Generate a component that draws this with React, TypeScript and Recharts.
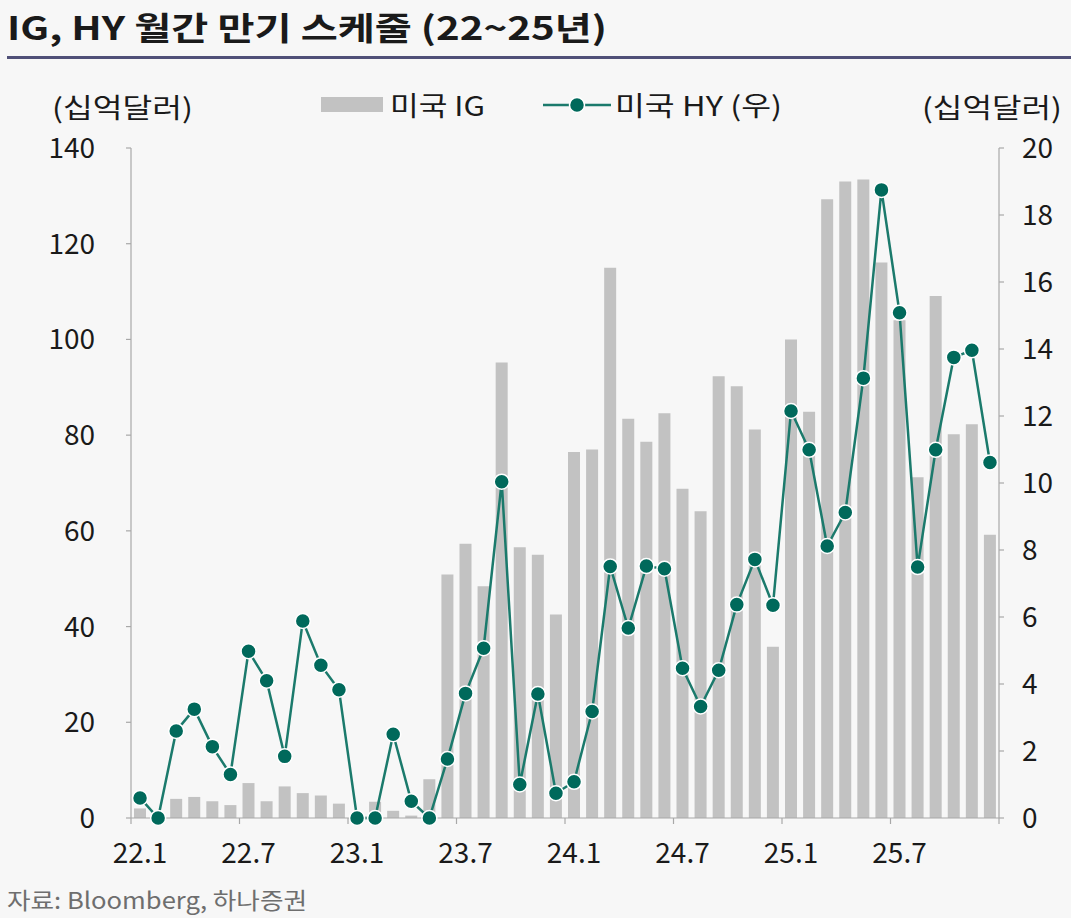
import React from "react";
import { ComposedChart, Bar, Line, XAxis, YAxis } from "recharts";

// 22.1 ~ 25.12 monthly buckets
const years = ["22", "23", "24", "25"];
const months = [1, 2, 3, 4, 5, 6, 7, 8, 9, 10, 11, 12];
const categories = years.flatMap((y) => months.map((m) => `${y}.${m}`));

const xTickLabels = ["22.1", "22.7", "23.1", "23.7", "24.1", "24.7", "25.1", "25.7"];

// 미국 IG (left axis, 십억달러)
const igValues = [
  2, 1, 4.0, 4.4, 3.5, 2.7, 7.3, 3.5, 6.6, 5.2, 4.7, 3.0,
  0.5, 3.4, 1.5, 0.5, 8.1, 50.9, 57.3, 48.4, 95.2, 56.6, 55.0, 42.5,
  76.5, 77.0, 115.0, 83.4, 78.6, 84.6, 68.8, 64.1, 92.3, 90.2, 81.2, 35.8,
  100.0, 84.9, 129.3, 133.0, 133.4, 116.1, 104.0, 71.2, 109.1, 80.2, 82.3, 59.2,
];

// 미국 HY (right axis, 십억달러)
const hyValues = [
  0.6, 0, 2.6, 3.25, 2.13, 1.3, 4.98, 4.1, 1.84, 5.88, 4.56, 3.83,
  0, 0, 2.5, 0.5, 0, 1.76, 3.72, 5.07, 10.04, 1.0, 3.7, 0.74,
  1.08, 3.18, 7.51, 5.67, 7.52, 7.44, 4.47, 3.33, 4.41, 6.37, 7.72, 6.35,
  12.15, 10.99, 8.12, 9.12, 13.13, 18.75, 15.08, 7.49, 10.99, 13.75, 13.96, 10.61,
];

const leftTicks = [0, 20, 40, 60, 80, 100, 120, 140];
const rightTicks = [0, 2, 4, 6, 8, 10, 12, 14, 16, 18, 20];

const data = categories.map((m, i) => ({ m, ig: igValues[i], hy: hyValues[i] }));

const FONT = "'Noto Sans CJK KR', 'Noto Sans', sans-serif";
const TEXT = "#1a1a1a";
const AXIS = "#a8a8a8";
const BAR = "#c2c2c2";
const LINE = "#1b7a6c";
const DOT = "#00695b";

const MonthTick = (props: any) => {
  const { x, y, payload, index } = props;
  const half = payload?.offset ?? 9;
  const showLabel = xTickLabels.includes(payload.value);
  const isLast = index === categories.length - 1;
  return (
    <g>
      {showLabel && (
        <>
          <line x1={x - half} x2={x - half} y1={y} y2={y + 6} stroke={AXIS} strokeWidth={1.2} />
          <text x={x} y={y + 45} textAnchor="middle" fontSize={28} fill={TEXT} fontFamily={FONT}>
            {payload.value}
          </text>
        </>
      )}
      {isLast && <line x1={x + half} x2={x + half} y1={y} y2={y + 6} stroke={AXIS} strokeWidth={1.2} />}
    </g>
  );
};

export default function App() {
  return (
    <div
      style={{
        position: "absolute",
        left: 0,
        top: 0,
        width: 1071,
        height: 918,
        background: "#f7f7f7",
        overflow: "hidden",
        fontFamily: FONT,
      }}
    >
      <svg width={1071} height={918} style={{ position: "absolute", left: 0, top: 0 }}>
        <text x={7} y={40} fontSize={32} fontWeight={700} fill={TEXT} fontFamily={FONT} textLength={600} lengthAdjust="spacingAndGlyphs">
          IG, HY 월간 만기 스케줄 (22~25년)
        </text>
        <rect x={7} y={56} width={1064} height={3} fill="#505078" />
        <text x={52} y={118} fontSize={27} fill={TEXT} fontFamily={FONT} textLength={141} lengthAdjust="spacingAndGlyphs">
          (십억달러)
        </text>
        <text x={922} y={118} fontSize={27} fill={TEXT} fontFamily={FONT} textLength={140} lengthAdjust="spacingAndGlyphs">
          (십억달러)
        </text>
        {/* legend */}
        <rect x={321} y={97} width={62} height={15} fill={BAR} />
        <text x={390} y={116} fontSize={27} fill={TEXT} fontFamily={FONT} textLength={95} lengthAdjust="spacingAndGlyphs">
          미국 IG
        </text>
        <line x1={543} x2={611} y1={105} y2={105} stroke={LINE} strokeWidth={2.5} />
        <circle cx={577} cy={105} r={7.5} fill={DOT} stroke="#fff" strokeWidth={1.5} />
        <text x={615} y={116} fontSize={27} fill={TEXT} fontFamily={FONT} textLength={167} lengthAdjust="spacingAndGlyphs">
          미국 HY (우)
        </text>
        <text x={7} y={909} fontSize={23} fill="#6e6e6e" fontFamily={FONT} textLength={300} lengthAdjust="spacingAndGlyphs">
          자료: Bloomberg, 하나증권
        </text>
      </svg>
      <div style={{ position: "absolute", left: 0, top: 0 }}>
        <ComposedChart
          width={1071}
          height={918}
          data={data}
          margin={{ top: 148, right: 0, bottom: 0, left: 0 }}
          barSize={12}
        >
          <XAxis
            dataKey="m"
            xAxisId="x"
            interval={0}
            height={100}
            tickLine={false}
            tickSize={0}
            tickMargin={0}
            axisLine={{ stroke: AXIS, strokeWidth: 1.2 }}
            tick={<MonthTick />}
          />
          <YAxis
            yAxisId="left"
            orientation="left"
            width={131}
            domain={[0, 140]}
            ticks={leftTicks}
            interval={0}
            tickSize={5}
            tickMargin={31}
            axisLine={{ stroke: AXIS, strokeWidth: 1.2 }}
            tickLine={{ stroke: AXIS, strokeWidth: 1.2 }}
            tick={{ fontSize: 28, fill: TEXT, fontFamily: FONT }}
          />
          <YAxis
            yAxisId="right"
            orientation="right"
            width={72}
            domain={[0, 20]}
            ticks={rightTicks}
            interval={0}
            tickSize={5}
            tickMargin={18}
            axisLine={{ stroke: AXIS, strokeWidth: 1.2 }}
            tickLine={{ stroke: AXIS, strokeWidth: 1.2 }}
            tick={{ fontSize: 28, fill: TEXT, fontFamily: FONT, textAnchor: "start" }}
          />
          <Bar dataKey="ig" xAxisId="x" yAxisId="left" fill={BAR} isAnimationActive={false} />
          <Line
            dataKey="hy"
            xAxisId="x"
            yAxisId="right"
            type="linear"
            stroke={LINE}
            strokeWidth={2.5}
            dot={{ r: 7.5, fill: DOT, stroke: "#fff", strokeWidth: 1.5 }}
            activeDot={false}
            isAnimationActive={false}
          />
        </ComposedChart>
      </div>
    </div>
  );
}
